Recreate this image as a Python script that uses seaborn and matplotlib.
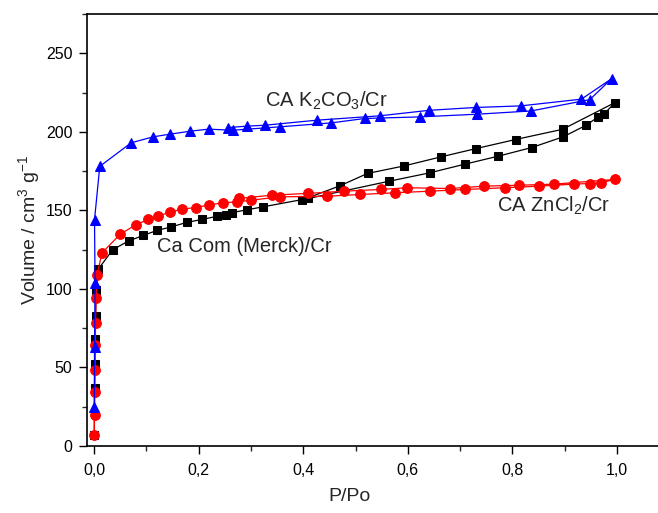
import numpy as np
import pandas as pd
import seaborn as sns
import matplotlib
matplotlib.use("Agg")
import matplotlib.pyplot as plt
from matplotlib.ticker import MultipleLocator, FuncFormatter

# Ca Com (Merck)/Cr  - adsorption then desorption branch
merck_p = [0.0005, 0.001, 0.0015, 0.002, 0.003, 0.004, 0.008, 0.036, 0.066, 0.094,
           0.12, 0.147, 0.177, 0.206, 0.235, 0.252, 0.263, 0.293, 0.324, 0.41,
           0.565, 0.642, 0.709, 0.773, 0.837, 0.897, 0.941, 0.964, 0.976, 0.996,
           0.896, 0.806, 0.730, 0.664, 0.593, 0.523, 0.47, 0.397]
merck_v = [7, 37, 52, 68, 83, 99, 112.5, 125, 130.5, 134,
           137.2, 139.4, 142.3, 144.2, 146.2, 147.2, 148.5, 150.4, 152.3, 157.6,
           168.6, 173.9, 179.4, 184.5, 190, 196.8, 204.2, 209.5, 211.6, 218.6,
           201.6, 195.1, 189.3, 184.1, 178.3, 173.5, 165.6, 156.5]

# CA ZnCl2/Cr
zncl_p = [0.0005, 0.001, 0.0015, 0.002, 0.0025, 0.003, 0.004, 0.006, 0.015, 0.05,
          0.08, 0.104, 0.123, 0.145, 0.168, 0.195, 0.22, 0.246, 0.273, 0.301,
          0.355, 0.445, 0.509, 0.575, 0.642, 0.709, 0.786, 0.850, 0.917, 0.948,
          0.969, 0.996,
          0.880, 0.813, 0.746, 0.681, 0.599, 0.548, 0.478, 0.41, 0.341, 0.278]
zncl_v = [7, 19.7, 34.6, 48.3, 64, 78.5, 94, 108.8, 122.8, 134.8,
          140.8, 144.2, 146.4, 148.8, 150.8, 151.8, 153.5, 154.8, 155.4, 156.5,
          158.6, 159, 160.1, 161.2, 162.2, 163.3, 164.4, 165.4, 166.7, 167.1,
          167.5, 169.7,
          166.7, 166, 165.4, 163.9, 164.4, 163.3, 162.2, 160.8, 159.7, 157.6]

# CA K2CO3/Cr
k2co3_p = [0.0005, 0.001, 0.002, 0.001, 0.011, 0.071, 0.113, 0.145, 0.184, 0.219,
           0.265, 0.356, 0.454, 0.518, 0.623, 0.732, 0.836, 0.948, 0.990,
           0.932, 0.816, 0.730, 0.641, 0.547, 0.426, 0.327, 0.292, 0.256]
k2co3_v = [25, 63, 104, 144, 178, 193, 196.8, 198.5, 200.4, 201.7,
           201, 203.2, 205.7, 208.5, 209.5, 211.2, 213.3, 220.5, 233.9,
           220.8, 216.5, 215.5, 213.7, 210.2, 207.4, 204.2, 203.6, 202.7]

sns.set_style("ticks")
plt.rcParams['font.family'] = ['Liberation Sans', 'DejaVu Sans']
plt.rcParams['mathtext.fontset'] = 'custom'
plt.rcParams['mathtext.rm'] = 'Liberation Sans'
plt.rcParams['mathtext.it'] = 'Liberation Sans'

fig = plt.figure(figsize=(6.58, 5.13), dpi=100)
ax = fig.add_axes([87 / 658, 1 - 446 / 513, (691 - 87) / 658, (446 - 14) / 513])

series = [
    (merck_p, merck_v, "black", "s", 6.3),
    (zncl_p, zncl_v, "#ff0000", "o", 7.0),
    (k2co3_p, k2co3_v, "#0000ff", "^", 7.8),
]
for p, v, col, mk, ms in series:
    df = pd.DataFrame({"p": p, "v": v})
    sns.lineplot(data=df, x="p", y="v", ax=ax, sort=False, estimator=None,
                 color=col, marker=mk, markersize=ms, markeredgecolor=col,
                 linewidth=0.9)

ax.set_xlim(-7 / 523, (691 - 94) / 523)
ax.set_ylim(0, 275)
ax.xaxis.set_major_locator(MultipleLocator(0.2))
ax.xaxis.set_minor_locator(MultipleLocator(0.1))
ax.yaxis.set_major_locator(MultipleLocator(50))
ax.yaxis.set_minor_locator(MultipleLocator(25))
ax.xaxis.set_major_formatter(FuncFormatter(lambda x, pos: f"{x:.1f}".replace(".", ",")))
ax.tick_params(which="major", direction="out", length=5.5, width=1, pad=5,
               labelsize=11.5, colors="black")
ax.tick_params(axis="x", which="major", pad=7)
ax.tick_params(which="minor", direction="out", length=3.5, width=1)
ax.tick_params(top=False, right=False, which="both")
for s in ax.spines.values():
    s.set_linewidth(1.2)
    s.set_color("black")

ax.set_xlabel("P/Po", fontsize=14)
ax.xaxis.set_label_coords(0.434, -0.098)
ax.set_ylabel("Volume / cm$^3$ g$^{-1}$", fontsize=14, labelpad=3)

ax.text(0.327, 220, "CA K$_2$CO$_3$/Cr", fontsize=14.5, va="center")
ax.text(0.12, 127, "Ca Com (Merck)/Cr", fontsize=14.5, va="center")
ax.text(0.77, 153, "CA ZnCl$_2$/Cr", fontsize=14.5, va="center")

fig.savefig("out.png", dpi=100)
